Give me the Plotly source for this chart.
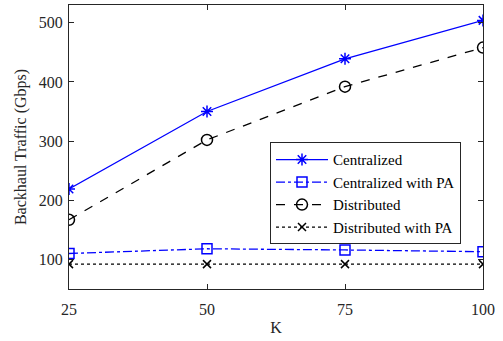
import plotly.graph_objects as go

K = [25, 50, 75, 100]
centralized = [219, 350, 439, 504]
centralized_pa = [110, 118, 116, 113]
distributed = [167, 302, 392, 458]
distributed_pa = [92, 92, 92, 92]

names = ["Centralized", "Centralized with PA", "Distributed", "Distributed with PA"]
series = [centralized, centralized_pa, distributed, distributed_pa]
colors = ["#0000ff", "#0000ff", "#000000", "#000000"]
dashes = ["solid", "dashdot", "dash", "dot"]
symbols = ["asterisk-open", "square-open", "circle-open", "x-thin-open"]
sizes = [10, 10, 11, 8]

fig = go.Figure()
for n, s, c, d, sym, sz in zip(names, series, colors, dashes, symbols, sizes):
    fig.add_trace(go.Scatter(
        x=K, y=s, name=n, mode="lines+markers",
        line=dict(color=c, dash=d, width=1.3),
        marker=dict(symbol=sym, size=sz, color=c, line=dict(color=c, width=1.5)),
    ))

axis_common = dict(
    showline=True, linecolor="#262626", linewidth=1, mirror="ticks",
    ticks="inside", ticklen=5, tickcolor="#262626", showgrid=False, zeroline=False,
    tickfont=dict(family="Liberation Serif", size=16, color="#262626"),
)
fig.update_layout(
    width=503, height=341,
    margin=dict(l=69, r=20, t=5, b=52),
    paper_bgcolor="white", plot_bgcolor="white",
    font=dict(family="Liberation Serif", size=16, color="#262626"),
    xaxis=dict(range=[25, 100], tickvals=K, ticklabelstandoff=6,
               title=dict(text="K", standoff=4, font=dict(size=16)), **axis_common),
    yaxis=dict(range=[50, 530], tickvals=[100, 200, 300, 400, 500], ticklabelstandoff=2,
               title=dict(text="Backhaul Traffic (Gbps)", standoff=8, font=dict(size=16)), **axis_common),
    legend=dict(x=0.4855, y=0.5165, xanchor="left", yanchor="top",
                bordercolor="#262626", borderwidth=1, bgcolor="white",
                font=dict(family="Liberation Serif", size=15, color="#000000"),
                tracegroupgap=0, itemwidth=52),
    showlegend=True,
)
fig.write_html("out.html")
